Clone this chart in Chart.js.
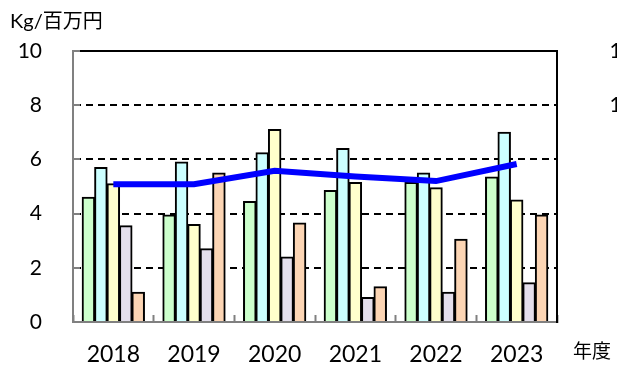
<!DOCTYPE html>
<html>
<head>
<meta charset="utf-8">
<script src="https://cdn.jsdelivr.net/npm/chart.js@4.4.1/dist/chart.umd.min.js"></script>
<style>
  html, body { margin: 0; padding: 0; overflow: hidden; background: #fff; }
  #wrap { position: relative; width: 646px; height: 367px; }
</style>
</head>
<body>
<div id="wrap"><canvas id="c"></canvas></div>
<script>
// ---- data ----
const categories = ['2018', '2019', '2020', '2021', '2022', '2023'];
const seriesNames = ['系列1', '系列2', '系列3', '系列4', '系列5'];
const seriesGreen    = [4.6, 3.95, 4.45, 4.85, 5.15, 5.35];
const seriesCyan     = [5.7, 5.9, 6.25, 6.4, 5.5, 7.0];
const seriesYellow   = [5.1, 3.6, 7.1, 5.15, 4.95, 4.5];
const seriesLavender = [3.55, 2.7, 2.4, 0.9, 1.1, 1.45];
const seriesPeach    = [1.1, 5.5, 3.65, 1.3, 3.05, 3.95];
const lineName = '平均';
const lineValues = [5.08, 5.08, 5.58, 5.37, 5.2, 5.83];
const leftTicks = { min: 0, max: 10, step: 2 };
const rightTicks = { min: 0, max: 150, step: 30 };
const unitLabel = 'Kg/百万円';
const xAxisLabel = '年度';

// ---- styles ----
const FONT = 'Lato, "Noto Sans CJK JP", sans-serif';
const barColors = ['#CCFFCC', '#CCFFFF', '#FFFFCC', '#E4DFEC', '#FCD5B4'];
const barSeries = [seriesGreen, seriesCyan, seriesYellow, seriesLavender, seriesPeach];

const datasets = [{
  type: 'line',
  label: lineName,
  data: lineValues,
  borderColor: '#0000FF',
  borderWidth: 6,
  pointRadius: 0,
  fill: false,
  tension: 0,
  order: 0
}];
barSeries.forEach((arr, i) => {
  datasets.push({
    type: 'bar',
    label: seriesNames[i],
    data: arr,
    backgroundColor: barColors[i],
    borderColor: '#000',
    borderWidth: 2,
    categoryPercentage: 0.772,
    barPercentage: 1.0,
    inflateAmount: 0.5,
    order: 1
  });
});

const extras = {
  id: 'extras',
  afterDatasetsDraw(chart) {
    const { ctx, chartArea: a } = chart;
    ctx.save();
    ctx.strokeStyle = '#000';
    ctx.lineWidth = 2;
    ctx.beginPath();
    ctx.moveTo(a.left + 7, a.top);
    ctx.lineTo(a.right, a.top);
    ctx.stroke();
    ctx.restore();
  },
  afterDraw(chart) {
    const { ctx } = chart;
    ctx.save();
    ctx.fillStyle = '#000';
    ctx.textBaseline = 'middle';
    ctx.textAlign = 'left';
    ctx.font = '20px ' + FONT;
    ctx.fillText(unitLabel, 10, 22);
    ctx.font = '19px ' + FONT;
    ctx.fillText(xAxisLabel, 573, 352);
    ctx.restore();
  }
};

function fixVPad(s) { s.paddingTop = 13; s.paddingBottom = 13; }

new Chart(document.getElementById('c'), {
  type: 'bar',
  data: { labels: categories, datasets },
  options: {
    responsive: true,
    maintainAspectRatio: false,
    animation: false,
    datasets: { bar: { categoryPercentage: 0.772, barPercentage: 1.0 } },
    layout: { padding: { top: 51, left: 0, right: 0, bottom: 0 } },
    plugins: { legend: { display: false }, tooltip: { enabled: false } },
    scales: {
      x: {
        offset: true,
        grid: { offset: true, drawOnChartArea: false, drawTicks: true, tickLength: -7, tickColor: '#808080', tickWidth: 2 },
        border: { color: '#808080', width: 2 },
        ticks: { font: { family: FONT, size: 23 }, color: '#000', padding: 26, maxRotation: 0 },
        afterFit(s) { s.height = 45; }
      },
      y: {
        min: leftTicks.min, max: leftTicks.max,
        ticks: { stepSize: leftTicks.step, padding: 38, font: { family: FONT, size: 21 }, color: '#000' },
        grid: {
          color: (c) => (c.tick && (c.tick.value === leftTicks.min || c.tick.value === leftTicks.max)) ? 'rgba(0,0,0,0)' : '#000',
          lineWidth: 2, tickColor: '#808080', tickWidth: 2, tickLength: -7
        },
        border: { color: '#808080', width: 2, dash: [7, 5] },
        afterFit(s) { s.width = 73; fixVPad(s); }
      },
      y2: {
        position: 'right',
        min: rightTicks.min, max: rightTicks.max,
        ticks: { stepSize: rightTicks.step, crossAlign: 'far', font: { family: FONT, size: 21 }, color: '#000' },
        grid: { display: false, drawOnChartArea: false },
        border: { color: '#000', width: 2 },
        afterFit(s) { s.width = 89; fixVPad(s); }
      }
    }
  },
  plugins: [extras]
});
</script>
</body>
</html>
